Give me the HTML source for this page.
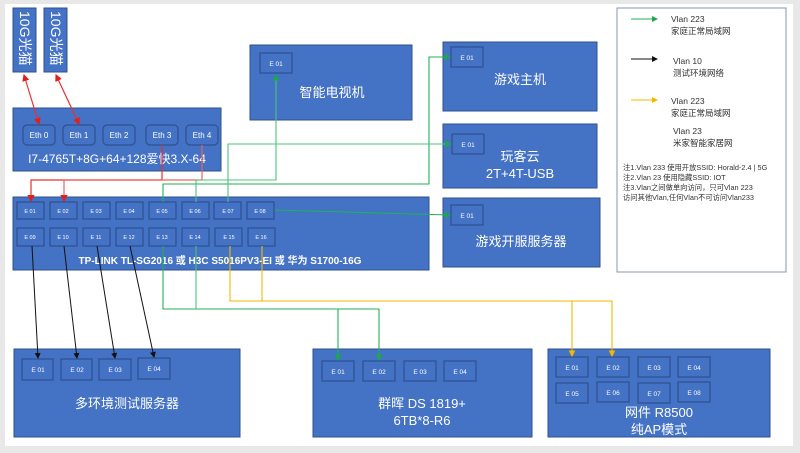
<!DOCTYPE html>
<html><head><meta charset="utf-8"><style>
html,body{margin:0;padding:0;background:#e8e8e8;}
svg{display:block;}
text{font-family:"Liberation Sans","Noto Sans CJK SC",sans-serif;}
</style></head><body>
<svg width="800" height="453" viewBox="0 0 800 453" xmlns="http://www.w3.org/2000/svg">
<defs>
<marker id="ar" markerWidth="6" markerHeight="6" refX="5" refY="3" orient="auto"><path d="M0,0 L6,3 L0,6 z" fill="#e02020"/></marker>
<marker id="ars" markerWidth="6" markerHeight="6" refX="1" refY="3" orient="auto"><path d="M6,0 L0,3 L6,6 z" fill="#e02020"/></marker>
<marker id="ag" markerWidth="6" markerHeight="6" refX="5" refY="3" orient="auto"><path d="M0,0 L6,3 L0,6 z" fill="#1aa84a"/></marker>
<marker id="ak" markerWidth="6" markerHeight="6" refX="5" refY="3" orient="auto"><path d="M0,0 L6,3 L0,6 z" fill="#111"/></marker>
<marker id="ay" markerWidth="6" markerHeight="6" refX="5" refY="3" orient="auto"><path d="M0,0 L6,3 L0,6 z" fill="#f5b800"/></marker>
</defs>
<rect x="0" y="0" width="800" height="453" fill="#e8e8e8"/>
<rect x="5" y="4" width="788" height="442" fill="#fff"/>

<g fill="#4472c4" stroke="#2f528f" stroke-width="1">
<rect x="13" y="8" width="23" height="64"/>
<rect x="44" y="8" width="23" height="64"/>
<rect x="13" y="108" width="208" height="63"/>
<rect x="13" y="197" width="416" height="73"/>
<rect x="250" y="45" width="162" height="75"/>
<rect x="443" y="42" width="154" height="69"/>
<rect x="443" y="124" width="154" height="64"/>
<rect x="443" y="198" width="157" height="69"/>
<rect x="14" y="349" width="226" height="88"/>
<rect x="313" y="349" width="219" height="88"/>
<rect x="548" y="349" width="222" height="88"/>
</g>
<rect x="617" y="8" width="169" height="264" fill="#fff" stroke="#8497b0" stroke-width="1"/>

<g fill="#fff" font-size="14">
<text transform="translate(20,11) rotate(90)">10G光猫</text>
<text transform="translate(51,11) rotate(90)">10G光猫</text>
</g>

<g fill="#4472c4" stroke="#2f528f" stroke-width="1.2">
<rect x="23" y="125" width="32" height="20" rx="4"/>
<rect x="63" y="125" width="32" height="20" rx="4"/>
<rect x="103" y="125" width="32" height="20" rx="4"/>
<rect x="146" y="125" width="32" height="20" rx="4"/>
<rect x="186" y="125" width="32" height="20" rx="4"/>
</g>
<g fill="#fff" font-size="8" text-anchor="middle">
<text x="39" y="138">Eth 0</text><text x="79" y="138">Eth 1</text><text x="119" y="138">Eth 2</text><text x="162" y="138">Eth 3</text><text x="202" y="138">Eth 4</text>
</g>
<text x="117" y="163" fill="#fff" font-size="12" text-anchor="middle">I7-4765T+8G+64+128爱快3.X-64</text>

<g fill="#4472c4" stroke="#2f528f" stroke-width="1.2">
<rect x="17" y="202" width="27" height="17"/><rect x="50" y="202" width="27" height="17"/><rect x="83" y="202" width="27" height="17"/><rect x="116" y="202" width="27" height="17"/>
<rect x="149" y="202" width="27" height="17"/><rect x="182" y="202" width="27" height="17"/><rect x="214" y="202" width="27" height="17"/><rect x="247" y="202" width="27" height="17"/>
<rect x="17" y="228" width="27" height="18"/><rect x="50" y="228" width="27" height="18"/><rect x="83" y="228" width="27" height="18"/><rect x="116" y="228" width="27" height="18"/>
<rect x="149" y="228" width="27" height="18"/><rect x="182" y="228" width="27" height="18"/><rect x="215" y="228" width="27" height="18"/><rect x="248" y="228" width="27" height="18"/>
</g>
<g fill="#fff" font-size="5.5" text-anchor="middle">
<text x="30" y="213">E 01</text><text x="63" y="213">E 02</text><text x="96" y="213">E 03</text><text x="129" y="213">E 04</text>
<text x="162" y="213">E 05</text><text x="195" y="213">E 06</text><text x="228" y="213">E 07</text><text x="260" y="213">E 08</text>
<text x="30" y="239">E 09</text><text x="63" y="239">E 10</text><text x="96" y="239">E 11</text><text x="129" y="239">E 12</text>
<text x="162" y="239">E 13</text><text x="195" y="239">E 14</text><text x="229" y="239">E 15</text><text x="261" y="239">E 16</text>
</g>
<text x="220" y="264" fill="#fff" font-size="10" font-weight="bold" text-anchor="middle">TP-LINK TL-SG2016 或 H3C S5016PV3-EI 或 华为 S1700-16G</text>

<g fill="#4472c4" stroke="#2f528f" stroke-width="1.2">
<rect x="260" y="53" width="32" height="20"/>
<rect x="451" y="47" width="32" height="20"/>
<rect x="452" y="134" width="32" height="20"/>
<rect x="451" y="205" width="32" height="20"/>
</g>
<g fill="#fff" font-size="6.5" text-anchor="middle">
<text x="276" y="66">E 01</text><text x="467" y="60">E 01</text><text x="468" y="147">E 01</text><text x="467" y="218">E 01</text>
</g>
<g fill="#fff" font-size="13" text-anchor="middle">
<text x="332" y="97">智能电视机</text>
<text x="520" y="84">游戏主机</text>
<text x="520" y="161">玩客云</text>
<text x="520" y="178">2T+4T-USB</text>
<text x="521" y="246">游戏开服服务器</text>
</g>

<g fill="#4472c4" stroke="#2f528f" stroke-width="1.2">
<rect x="22" y="359" width="31" height="21"/><rect x="61" y="359" width="31" height="21"/><rect x="99" y="359" width="32" height="21"/><rect x="138" y="358" width="32" height="21"/>
<rect x="322" y="361" width="32" height="20"/><rect x="363" y="361" width="32" height="20"/><rect x="404" y="361" width="32" height="20"/><rect x="444" y="361" width="32" height="20"/>
<rect x="556" y="357" width="32" height="20"/><rect x="597" y="357" width="32" height="20"/><rect x="638" y="357" width="32" height="20"/><rect x="678" y="357" width="32" height="20"/>
<rect x="556" y="383" width="32" height="20"/><rect x="597" y="382" width="32" height="20"/><rect x="638" y="383" width="32" height="20"/><rect x="678" y="382" width="32" height="20"/>
</g>
<g fill="#fff" font-size="6.5" text-anchor="middle">
<text x="38" y="372">E 01</text><text x="77" y="372">E 02</text><text x="115" y="372">E 03</text><text x="154" y="371">E 04</text>
<text x="338" y="374">E 01</text><text x="379" y="374">E 02</text><text x="420" y="374">E 03</text><text x="460" y="374">E 04</text>
<text x="572" y="370">E 01</text><text x="613" y="370">E 02</text><text x="654" y="370">E 03</text><text x="694" y="370">E 04</text>
<text x="572" y="396">E 05</text><text x="613" y="395">E 06</text><text x="654" y="396">E 07</text><text x="694" y="395">E 08</text>
</g>
<g fill="#fff" font-size="13" text-anchor="middle">
<text x="127" y="408">多环境测试服务器</text>
<text x="422" y="408">群晖 DS 1819+</text>
<text x="422" y="425">6TB*8-R6</text>
<text x="659" y="417">网件 R8500</text>
<text x="659" y="434">纯AP模式</text>
</g>

<g stroke="#e83030" stroke-width="1.2" fill="none">
<line x1="24" y1="75" x2="39" y2="124" marker-start="url(#ars)" marker-end="url(#ar)"/>
<line x1="56" y1="75" x2="79" y2="124" marker-start="url(#ars)" marker-end="url(#ar)"/>
<polyline points="162,145 162,180 31,180 31,201" marker-end="url(#ar)"/>
<polyline points="202,145 202,180 64,180 64,201" marker-end="url(#ar)" stroke="#f06060"/>
</g>
<g stroke="#22b15a" stroke-width="1.1" fill="none">
<polyline points="163,202 163,184 429,184 429,57 450,57" marker-end="url(#ag)"/>
<polyline points="196,202 196,180 276,180 276,75" marker-end="url(#ag)" stroke="#4cc47a"/>
<polyline points="228,202 228,144 451,144" marker-end="url(#ag)" stroke="#4cc47a"/>
<line x1="275" y1="210" x2="450" y2="215" marker-end="url(#ag)"/>
<polyline points="163,246 163,309 379,309 379,360" marker-end="url(#ag)"/>
<polyline points="196,246 196,309" stroke="#4cc47a"/>
<polyline points="338,309 338,360" marker-end="url(#ag)"/>
</g>
<g stroke="#f5b800" stroke-width="1.1" fill="none">
<polyline points="230,246 230,301 612,301 612,356" marker-end="url(#ay)"/>
<polyline points="262,246 262,301"/>
<polyline points="572,301 572,356" marker-end="url(#ay)"/>
</g>
<g stroke="#111" stroke-width="1" fill="none">
<line x1="32" y1="246" x2="38" y2="358" marker-end="url(#ak)"/>
<line x1="64" y1="246" x2="77" y2="358" marker-end="url(#ak)"/>
<line x1="97" y1="246" x2="115" y2="358" marker-end="url(#ak)"/>
<line x1="130" y1="246" x2="154" y2="357" marker-end="url(#ak)"/>
</g>

<line x1="631" y1="19" x2="657" y2="19" stroke="#22b15a" stroke-width="1" marker-end="url(#ag)"/>
<line x1="631" y1="59" x2="657" y2="59" stroke="#111" stroke-width="1" marker-end="url(#ak)"/>
<line x1="631" y1="100" x2="657" y2="100" stroke="#f5b800" stroke-width="1" marker-end="url(#ay)"/>
<g fill="#333" font-size="8.5">
<text x="671" y="22">Vlan 223</text><text x="671" y="34">家庭正常局域网</text>
<text x="673" y="64">Vlan 10</text><text x="673" y="76">测试环境网络</text>
<text x="671" y="104">Vlan 223</text><text x="671" y="116">家庭正常局域网</text>
<text x="673" y="134">Vlan 23</text><text x="673" y="146">米家智能家居网</text>
</g>
<g fill="#333" font-size="7.3">
<text x="623" y="170">注1.Vlan 233 使用开放SSID:  Horald-2.4 | 5G</text>
<text x="623" y="180">注2.Vlan 23   使用隐藏SSID:  IOT</text>
<text x="623" y="190">注3.Vlan之间做单向访问，只可Vlan 223</text>
<text x="623" y="200">访问其他Vlan,任何Vlan不可访问Vlan233</text>
</g>
</svg>
</body></html>
